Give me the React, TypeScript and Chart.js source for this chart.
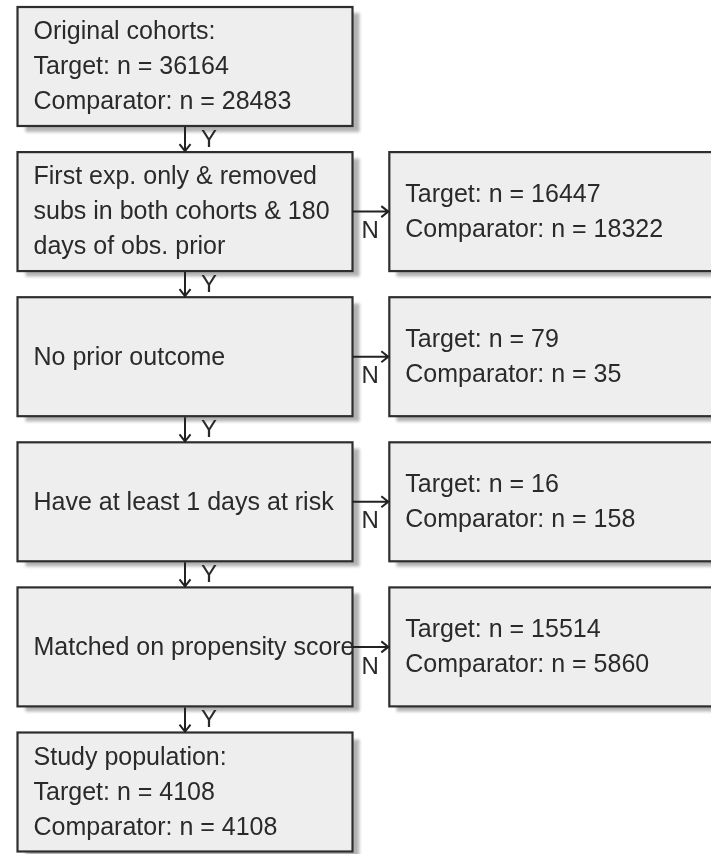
import React, { useEffect, useRef } from "react";
import { Chart, registerables } from "chart.js";

Chart.register(...registerables);

// ---- Data ----
const stepLabels: string[][] = [
  ["Original cohorts:"],
  ["First exp. only & removed", "subs in both cohorts & 180", "days of obs. prior"],
  ["No prior outcome"],
  ["Have at least 1 days at risk"],
  ["Matched on propensity score"],
  ["Study population:"],
];
const cohortSteps = [0, 5]; // steps whose box lists counts
const cohortTarget = [36164, 4108];
const cohortComparator = [28483, 4108];
const excludedTarget = [16447, 79, 16, 15514];
const excludedComparator = [18322, 35, 158, 5860];
const yesLabel = "Y";
const noLabel = "N";

function leftLines(i: number): string[] {
  const k = cohortSteps.indexOf(i);
  if (k >= 0) {
    return [
      ...stepLabels[i],
      `Target: n = ${cohortTarget[k]}`,
      `Comparator: n = ${cohortComparator[k]}`,
    ];
  }
  return stepLabels[i];
}

function rightLines(j: number): string[] {
  return [`Target: n = ${excludedTarget[j]}`, `Comparator: n = ${excludedComparator[j]}`];
}

const HALF_W = 0.4505;
const HALF_H = 0.41;
const FONT = '25px "Liberation Sans", Arial, sans-serif';
const LABEL_FONT = '24px "Liberation Sans", Arial, sans-serif';

const flowPlugin = {
  id: "flow",
  afterDatasetsDraw(chart: any) {
    const ctx = chart.ctx as CanvasRenderingContext2D;
    const xs = chart.scales.x;
    const ys = chart.scales.y;
    const leftMeta = chart.getDatasetMeta(0);
    const rightMeta = chart.getDatasetMeta(1);

    const box = (pt: any, lines: string[]) => {
      const cx = pt.x;
      const cy = pt.y;
      const colVal = xs.getValueForPixel(cx);
      const rowVal = ys.getValueForPixel(cy);
      const x0 = xs.getPixelForValue(colVal - HALF_W);
      const x1 = xs.getPixelForValue(colVal + HALF_W);
      const y0 = ys.getPixelForValue(rowVal - HALF_H);
      const y1 = ys.getPixelForValue(rowVal + HALF_H);
      ctx.save();
      ctx.shadowColor = "rgba(0,0,0,0.3)";
      ctx.shadowBlur = 3;
      ctx.shadowOffsetX = 7;
      ctx.shadowOffsetY = 6;
      ctx.fillStyle = "#eeeeee";
      ctx.fillRect(x0, y0, x1 - x0, y1 - y0);
      ctx.restore();
      ctx.save();
      ctx.strokeStyle = "#2e2e2e";
      ctx.lineWidth = 2.2;
      ctx.strokeRect(x0, y0, x1 - x0, y1 - y0);
      ctx.fillStyle = "#2a2a2a";
      ctx.font = FONT;
      ctx.textBaseline = "middle";
      ctx.textAlign = "left";
      const lh = 35;
      const start = cy - ((lines.length - 1) * lh) / 2;
      lines.forEach((ln, k) => ctx.fillText(ln, x0 + 16, start + k * lh + 1));
      ctx.restore();
      return { x0, x1, y0, y1, cx, cy };
    };

    const lefts = leftMeta.data.map((pt: any, i: number) => box(pt, leftLines(i)));
    const rights = rightMeta.data.map((pt: any, j: number) => box(pt, rightLines(j)));

    ctx.save();
    ctx.strokeStyle = "#222222";
    ctx.fillStyle = "#2a2a2a";
    ctx.lineWidth = 2;
    ctx.font = LABEL_FONT;
    // vertical Y arrows
    for (let i = 0; i < lefts.length - 1; i++) {
      const a = lefts[i];
      const b = lefts[i + 1];
      const x = a.cx;
      ctx.beginPath();
      ctx.moveTo(x, a.y1 + 1);
      ctx.lineTo(x, b.y0 - 1);
      ctx.moveTo(x - 5.5, b.y0 - 8);
      ctx.lineTo(x, b.y0 - 1);
      ctx.lineTo(x + 5.5, b.y0 - 8);
      ctx.stroke();
      ctx.textAlign = "left";
      ctx.textBaseline = "middle";
      ctx.fillText(yesLabel, x + 16, (a.y1 + b.y0) / 2 + 1);
    }
    // horizontal N arrows
    rights.forEach((r: any, j: number) => {
      const a = lefts[j + 1];
      const y = r.cy;
      ctx.beginPath();
      ctx.moveTo(a.x1, y);
      ctx.lineTo(r.x0 - 1, y);
      ctx.moveTo(r.x0 - 8, y - 5.5);
      ctx.lineTo(r.x0 - 1, y);
      ctx.lineTo(r.x0 - 8, y + 5.5);
      ctx.stroke();
      ctx.textAlign = "left";
      ctx.textBaseline = "top";
      ctx.fillText(noLabel, a.x1 + 9, y + 8);
    });
    ctx.restore();
  },
};

export default function App() {
  const ref = useRef<HTMLCanvasElement | null>(null);
  useEffect(() => {
    document.body.style.margin = "0";
    const canvas = ref.current;
    if (!canvas) return;
    const chart = new Chart(canvas, {
      type: "scatter",
      data: {
        datasets: [
          {
            label: "Steps",
            data: stepLabels.map((_, i) => ({ x: 0, y: i })),
            pointRadius: 0,
            showLine: false,
          },
          {
            label: "Excluded",
            data: excludedTarget.map((_, j) => ({ x: 1, y: j + 1 })),
            pointRadius: 0,
            showLine: false,
          },
        ],
      },
      options: {
        animation: false,
        responsive: false,
        devicePixelRatio: 1,
        layout: { padding: 0 },
        plugins: { legend: { display: false }, tooltip: { enabled: false } },
        events: [],
        scales: {
          x: { type: "linear", display: false, min: -0.4976, max: 1.4147 },
          y: { type: "linear", display: false, reverse: true, min: -0.4583, max: 5.4273 },
        },
      },
      plugins: [flowPlugin],
    });
    return () => chart.destroy();
  }, []);
  return (
    <div style={{ width: 711, height: 854, background: "#ffffff" }}>
      <canvas ref={ref} width={711} height={854} style={{ display: "block" }} />
    </div>
  );
}
